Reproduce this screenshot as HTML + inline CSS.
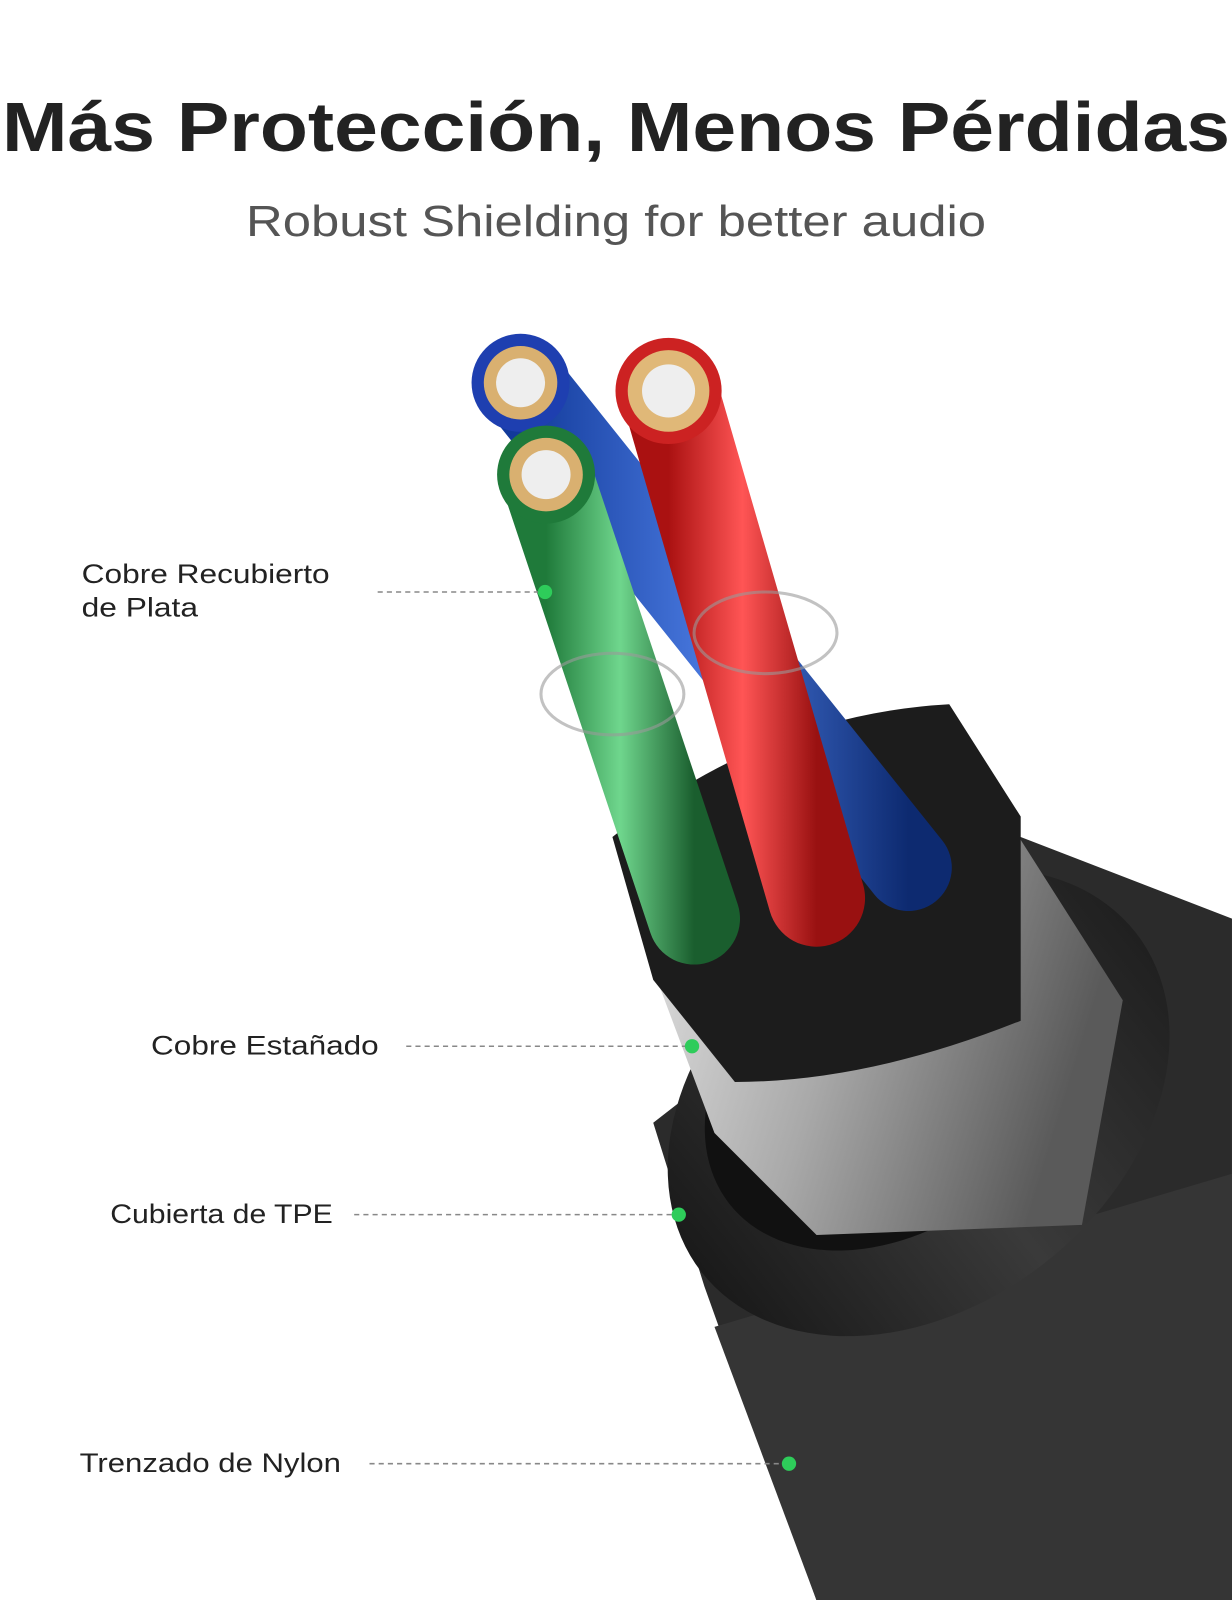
<!DOCTYPE html>
<html><head><meta charset="utf-8"><style>
html,body{margin:0;padding:0;background:#fff;}
svg{display:block}
</style></head><body>
<svg width="1232" height="1600" viewBox="0 0 1232 1600" xmlns="http://www.w3.org/2000/svg">
<defs>
<linearGradient id="silver" x1="0" y1="0" x2="1" y2="0.3">
<stop offset="0" stop-color="#e8e8e8"/><stop offset="0.5" stop-color="#a9a9a9"/><stop offset="1" stop-color="#5a5a5a"/></linearGradient>
<linearGradient id="jack" x1="0" y1="0" x2="1" y2="0">
<stop offset="0" stop-color="#1a1a1a"/><stop offset="0.5" stop-color="#3a3a3a"/><stop offset="1" stop-color="#202020"/></linearGradient>
<linearGradient id="gr" x1="0" y1="0" x2="1" y2="0"><stop offset="0" stop-color="#1f7a3a"/><stop offset="0.5" stop-color="#6fd68d"/><stop offset="1" stop-color="#1a5e2e"/></linearGradient>
<linearGradient id="rd" x1="0" y1="0" x2="1" y2="0"><stop offset="0" stop-color="#a11"/><stop offset="0.5" stop-color="#f55"/><stop offset="1" stop-color="#911"/></linearGradient>
<linearGradient id="bl" x1="0" y1="0" x2="1" y2="0"><stop offset="0" stop-color="#123a9a"/><stop offset="0.5" stop-color="#4a7ae0"/><stop offset="1" stop-color="#0d2a70"/></linearGradient>
</defs>
<text x="616" y="151" text-anchor="middle" font-family="Liberation Sans, sans-serif" font-weight="bold" font-size="70" fill="#222" textLength="1228" lengthAdjust="spacingAndGlyphs">Más Protección, Menos Pérdidas</text>
<text x="616" y="236" text-anchor="middle" font-family="Liberation Sans, sans-serif" font-size="44" fill="#555" textLength="740" lengthAdjust="spacingAndGlyphs">Robust Shielding for better audio</text>

<g transform="scale(1.0207)">
<polygon points="640,1100 1000,820 1207,900 1207,1568 800,1568 690,1260" fill="#2b2b2b"/>
<polygon points="700,1300 1207,1150 1207,1568 800,1568" fill="#353535"/>
<ellipse cx="900" cy="1080" rx="270" ry="200" transform="rotate(-38 900 1080)" fill="url(#jack)"/>
<ellipse cx="880" cy="1050" rx="210" ry="150" transform="rotate(-38 880 1050)" fill="#111"/>
<polygon points="640,950 960,760 1100,980 1060,1200 800,1210 700,1110" fill="url(#silver)"/>
<path d="M600,820 Q750,700 930,690 L1000,800 L1000,1000 Q850,1060 720,1060 L640,960 Z" fill="#1c1c1c"/>
<line x1="510" y1="375" x2="890" y2="850" stroke="url(#bl)" stroke-width="85" stroke-linecap="round"/>
<line x1="655" y1="380" x2="800" y2="880" stroke="url(#rd)" stroke-width="95" stroke-linecap="round"/>
<line x1="535" y1="465" x2="680" y2="900" stroke="url(#gr)" stroke-width="90" stroke-linecap="round"/>
<ellipse cx="600" cy="680" rx="70" ry="40" fill="none" stroke="#999" stroke-width="3" opacity="0.6"/>
<ellipse cx="750" cy="620" rx="70" ry="40" fill="none" stroke="#999" stroke-width="3" opacity="0.6"/>
<circle cx="510" cy="375" r="48" fill="#1e3fb0"/><circle cx="510" cy="375" r="36" fill="#d9b070"/><circle cx="510" cy="375" r="24" fill="#eee"/>
<circle cx="655" cy="383" r="52" fill="#c22"/><circle cx="655" cy="383" r="40" fill="#e0b878"/><circle cx="655" cy="383" r="26" fill="#eee"/>
<circle cx="535" cy="465" r="48" fill="#1f7a3a"/><circle cx="535" cy="465" r="36" fill="#d9b070"/><circle cx="535" cy="465" r="24" fill="#eee"/>
<g font-family="Liberation Sans, sans-serif" font-size="26" fill="#222">
<text x="80" y="571" textLength="243" lengthAdjust="spacingAndGlyphs">Cobre Recubierto</text>
<text x="80" y="604" textLength="114" lengthAdjust="spacingAndGlyphs">de Plata</text>
<text x="148" y="1033" textLength="223" lengthAdjust="spacingAndGlyphs">Cobre Estañado</text>
<text x="108" y="1198" textLength="218" lengthAdjust="spacingAndGlyphs">Cubierta de TPE</text>
<text x="78" y="1442" textLength="256" lengthAdjust="spacingAndGlyphs">Trenzado de Nylon</text>
</g>
<g stroke="#888" stroke-width="1.5" stroke-dasharray="5,4">
<line x1="370" y1="580" x2="532" y2="580"/>
<line x1="398" y1="1025" x2="676" y2="1025"/>
<line x1="347" y1="1190" x2="662" y2="1190"/>
<line x1="362" y1="1434" x2="770" y2="1434"/>
</g>
<g fill="#2ecc5a">
<circle cx="534" cy="580" r="7"/><circle cx="678" cy="1025" r="7"/><circle cx="665" cy="1190" r="7"/><circle cx="773" cy="1434" r="7"/>
</g>
</g>
</svg>
</body></html>
